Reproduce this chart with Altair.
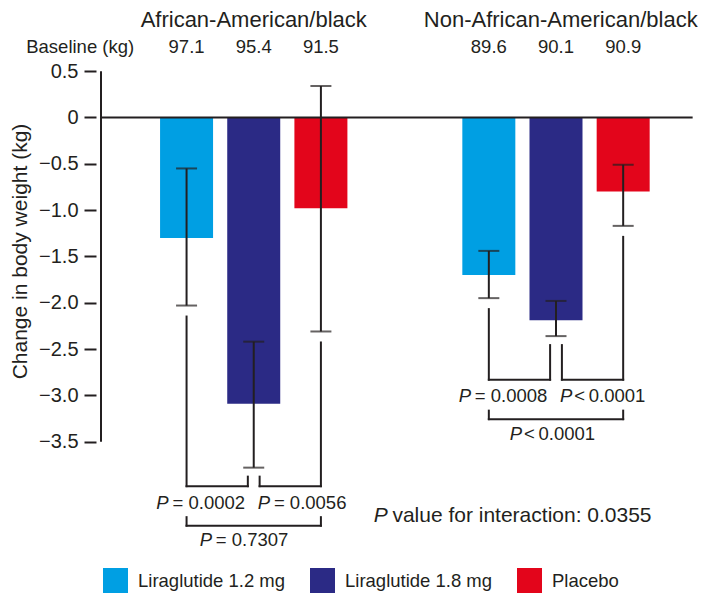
import altair as alt
import pandas as pd

# ---------------- data ----------------
groups = ["African-American/black", "Non-African-American/black"]
treatments = ["Liraglutide 1.2 mg", "Liraglutide 1.8 mg", "Placebo"]
colors = ["#009fe3", "#2b2a85", "#e3051b"]
baseline_kg = [["97.1", "95.4", "91.5"], ["89.6", "90.1", "90.9"]]
change_kg = [[-1.30, -3.09, -0.98], [-1.70, -2.19, -0.80]]
ci_lower = [[-2.03, -3.78, -2.31], [-1.95, -2.36, -1.17]]
ci_upper = [[-0.55, -2.42, 0.34], [-1.44, -1.98, -0.51]]
p_left = ["= 0.0002", "= 0.0008"]
p_right = ["= 0.0056", "<\u20090.0001"]
p_outer = ["= 0.7307", "<\u20090.0001"]
p_interaction = "value for interaction: 0.0355"
bracket_level = [-3.98, -2.83]
y_ticks = [0.5, 0, -0.5, -1.0, -1.5, -2.0, -2.5, -3.0, -3.5]

# ---------------- layout ----------------
FONT = "Liberation Sans"
INK = "#231f20"
FS = 18.5
GROUP_GAP = 4.5
PX_X = 68.3
PX_Y = 92.63
W, H = 605, 586
X0 = 87.0
Y0 = 109.5
x_dom = [-X0 / PX_X, (W - X0) / PX_X]
y_dom = [-(H - Y0) / PX_Y, Y0 / PX_Y]
xs = alt.Scale(domain=x_dom, nice=False, zero=False)
ys = alt.Scale(domain=y_dom, nice=False, zero=False)

yaxis = alt.Axis(
    values=y_ticks, domain=False, grid=False, tickSize=12, tickWidth=2,
    tickColor=INK, labelColor=INK, labelFont=FONT, labelFontSize=20,
    labelPadding=6,
    labelExpr="datum.value == 0 ? '0' : format(datum.value, '.1f')",
    title="Change in body weight (kg)", titleFont=FONT, titleFontSize=21,
    titleFontWeight="normal", titleColor=INK, titleX=-76, titleY=243,
    titleAngle=-90, titleAlign="center", titleBaseline="middle")


def X(f):
    return alt.X(f"{f}:Q", scale=xs, axis=None)


def Y(f):
    return alt.Y(f"{f}:Q", scale=ys, axis=yaxis)


rows = []
for g, grp in enumerate(groups):
    for t, trt in enumerate(treatments):
        rows.append(dict(group=grp, treatment=trt, pos=g * GROUP_GAP + t,
                         change=change_kg[g][t], lo=ci_lower[g][t],
                         hi=ci_upper[g][t], base=baseline_kg[g][t]))
bars_df = pd.DataFrame(rows)
caps_df = pd.concat([bars_df[["pos", "lo"]].rename(columns={"lo": "y"}),
                     bars_df[["pos", "hi"]].rename(columns={"hi": "y"})])

# bracket segments
GAP_CAP = 11 / PX_Y
INNER = 6 / PX_X
segs = []
for g in range(2):
    p0, p1, p2 = [g * GROUP_GAP + t for t in range(3)]
    lo0, lo1, lo2 = ci_lower[g]
    yb = bracket_level[g]
    yi = lo1 - 9 / PX_Y
    yt = yb - 31 / PX_Y
    yo = yb - 39.5 / PX_Y
    segs += [
        (p0, p0, lo0 - GAP_CAP, yb),
        (p0, p1 - INNER, yb, yb),
        (p1 - INNER, p1 - INNER, yi, yb),
        (p1 + INNER, p1 + INNER, yi, yb),
        (p1 + INNER, p2, yb, yb),
        (p2, p2, lo2 - GAP_CAP, yb),
        (p0, p0, yt, yo),
        (p0, p2, yo, yo),
        (p2, p2, yt, yo),
    ]
seg_df = pd.DataFrame(segs, columns=["x", "x2", "y", "y2"])


def gap_after_p(s):
    # pixel distance from the italic P to the rest of the label
    return 16.5 if s.startswith("=") else 14.5


outer_off = [-55, -47]
plab = []
for g in range(2):
    p1 = g * GROUP_GAP + 1
    yb = bracket_level[g]
    plab.append((p1 - 99 / PX_X, yb - 16.5 / PX_Y, p_left[g]))
    plab.append((p1 + 4 / PX_X, yb - 16.5 / PX_Y, p_right[g]))
    plab.append((p1 + outer_off[g] / PX_X, yb - 54 / PX_Y, p_outer[g]))
plab_df = pd.DataFrame(plab, columns=["x", "y", "rest"])
plab_df["xr"] = plab_df["x"] + plab_df["rest"].map(gap_after_p) / PX_X
plab_df["P"] = "P"

inter_df = pd.DataFrame({"x": [2.786], "y": [-4.302], "rest": [p_interaction],
                         "P": ["P"]})
inter_df["xr"] = inter_df["x"] + 19 / PX_X

title_df = pd.DataFrame({"x": [1.0, 5.57], "y": [0.975, 0.975], "t": groups})
base_lab_df = pd.DataFrame({"x": [-2.387], "y": [0.693], "t": ["Baseline (kg)"]})

zero_df = pd.DataFrame({"x": [x_dom[0]], "x2": [x_dom[1] - 0.05], "y": [0.0]})
yaxis_df = pd.DataFrame({"x": [x_dom[0]], "y": [y_ticks[0]], "y2": [y_ticks[-1]]})

# ---------------- chart ----------------
bars = alt.Chart(bars_df).mark_bar(size=53).encode(
    x=X("pos"),
    y=Y("change"),
    y2=alt.datum(0),
    color=alt.Color("treatment:N",
                    scale=alt.Scale(domain=treatments, range=colors),
                    legend=alt.Legend(orient="none", legendX=7, legendY=560,
                                      direction="horizontal", title=None,
                                      symbolType="square", symbolSize=625,
                                      symbolStrokeWidth=0, symbolOpacity=1,
                                      labelFont=FONT, labelFontSize=FS,
                                      labelColor=INK, labelOffset=10,
                                      columnPadding=24, padding=0)),
)

zero_line = alt.Chart(zero_df).mark_rule(color=INK, strokeWidth=2).encode(
    x=X("x"), x2="x2", y=Y("y"))
y_line = alt.Chart(yaxis_df).mark_rule(color=INK, strokeWidth=2).encode(
    x=X("x"), y=Y("y"), y2="y2")

err = alt.Chart(bars_df).mark_rule(color=INK, strokeWidth=2).encode(
    x=X("pos"), y=Y("lo"), y2="hi")
caps = alt.Chart(caps_df).mark_tick(color=INK, orient="horizontal", size=21,
                                    thickness=2).encode(x=X("pos"), y=Y("y"))

brackets = alt.Chart(seg_df).mark_rule(color=INK, strokeWidth=2,
                                       strokeCap="square").encode(
    x=X("x"), x2="x2", y=Y("y"), y2="y2")

p_it = alt.Chart(plab_df).mark_text(font=FONT, fontSize=FS, fontStyle="italic",
                                    align="left", baseline="middle",
                                    color=INK).encode(
    x=X("x"), y=Y("y"), text="P:N")
p_rest = alt.Chart(plab_df).mark_text(font=FONT, fontSize=FS, align="left",
                                      baseline="middle", color=INK).encode(
    x=X("xr"), y=Y("y"), text="rest:N")

i_it = alt.Chart(inter_df).mark_text(font=FONT, fontSize=21, fontStyle="italic",
                                     align="left", baseline="middle",
                                     color=INK).encode(
    x=X("x"), y=Y("y"), text="P:N")
i_rest = alt.Chart(inter_df).mark_text(font=FONT, fontSize=21, align="left",
                                       baseline="middle", color=INK).encode(
    x=X("xr"), y=Y("y"), text="rest:N")

titles = alt.Chart(title_df).mark_text(font=FONT, fontSize=22, align="center",
                                       baseline="alphabetic", color=INK).encode(
    x=X("x"), y=Y("y"), text="t:N")
base_lab = alt.Chart(base_lab_df).mark_text(font=FONT, fontSize=FS, align="left",
                                            baseline="alphabetic", color=INK).encode(
    x=X("x"), y=Y("y"), text="t:N")
base_vals = alt.Chart(bars_df).transform_calculate(by="0.693").mark_text(
    font=FONT, fontSize=FS, align="center", baseline="alphabetic",
    color=INK).encode(x=X("pos"), y=Y("by"), text="base:N")

chart = alt.layer(bars, zero_line, y_line, err, caps, brackets, p_it, p_rest,
                  i_it, i_rest, titles, base_lab, base_vals).properties(
    width=W, height=H,
    autosize=alt.AutoSizeParams(type="none"),
    padding={"left": 88, "top": 0, "right": 0, "bottom": 0},
    background="white",
).configure_view(stroke=None)

chart.save("out.html", embed_options={"renderer": "svg", "actions": False})
